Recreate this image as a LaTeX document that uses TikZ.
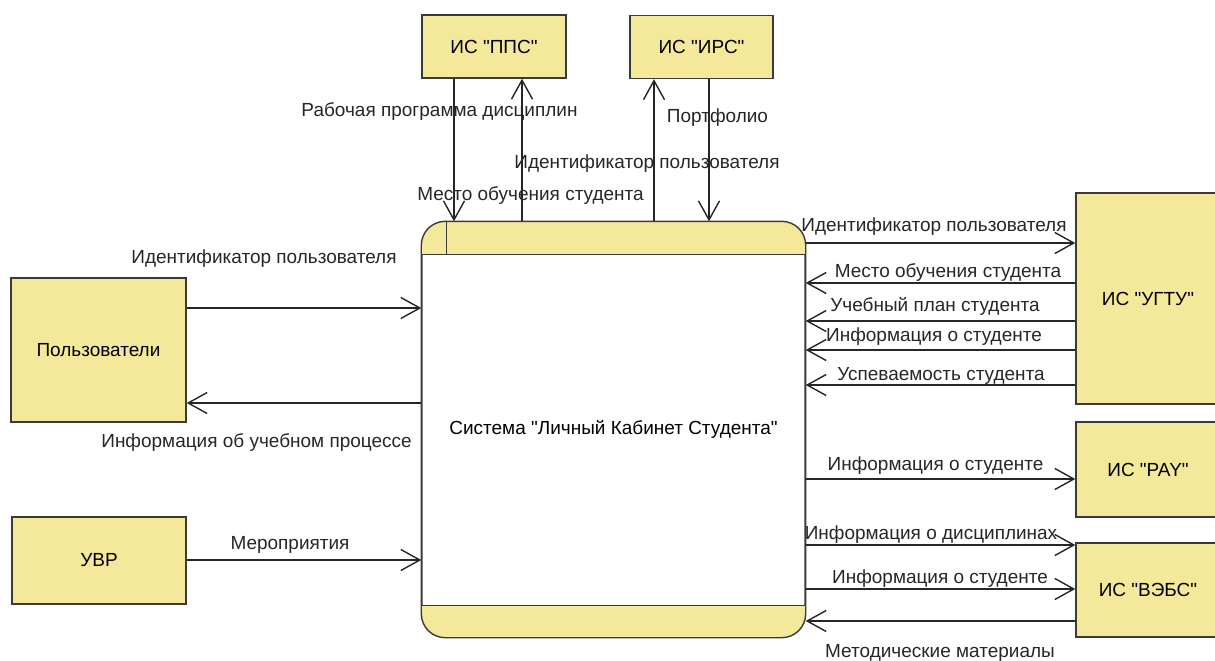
\documentclass[tikz,border=0pt]{standalone}
\usepackage{fontspec}
\setmainfont{Liberation Sans}
\usepackage{tikz}
\usetikzlibrary{arrows.meta,positioning,calc}
\definecolor{entfill}{HTML}{F4E89B}
\definecolor{entdraw}{HTML}{3A3A3A}
\newcommand{\qq}[1]{\textquotedbl#1\textquotedbl}
\tikzset{
  ent/.style={draw=entdraw, fill=entfill, line width=1pt,
              font=\fontsize{13.5}{16}\selectfont},
  sysbox/.style={draw=entdraw, fill=white, line width=1pt, rounded corners=6mm,
                 minimum width=95.75mm, minimum height=103.75mm,
                 font=\fontsize{13.5}{16}\selectfont},
  flow/.style={-{Straight Barb[length=4.75mm,width=5.25mm]}, line width=1pt, draw=black!85},
  lbl/.style={font=\fontsize{13.5}{16}\selectfont, inner sep=0pt, text=black!85},
}

\begin{document}
\begin{tikzpicture}[x=0.25mm, y=-0.25mm]
  \useasboundingbox (0,0) rectangle (1215,660);

  % main system
  \node[sysbox] (sys) at (613.5,429.5) {Система \qq{Личный Кабинет Студента}};
  \begin{scope}
    \clip[rounded corners=6mm] (sys.south west) rectangle (sys.north east);
    \fill[entfill] (sys.north west) rectangle ($(sys.north east)+(0,33)$);
    \fill[entfill] (sys.south west) rectangle ($(sys.south east)+(0,-32)$);
  \end{scope}
  \draw[entdraw, line width=1pt, rounded corners=6mm] (sys.south west) rectangle (sys.north east);
  \draw[entdraw, line width=1pt] ($(sys.north west)+(0,33)$) -- ($(sys.north east)+(0,33)$);
  \draw[entdraw, line width=1pt] ($(sys.south west)+(0,-32)$) -- ($(sys.south east)+(0,-32)$);
  \draw[entdraw, line width=1pt] ($(sys.north west)+(25,0)$) -- ($(sys.north west)+(25,33)$);

  % external systems
  \node[ent, minimum width=36mm, minimum height=15.75mm] (pps) at (494,46.5) {ИС \qq{ППС}};
  \node[ent, minimum width=35.75mm, minimum height=15.75mm] (irs) at (701.5,47) {ИС \qq{ИРС}};
  \node[ent, minimum width=43.75mm, minimum height=36mm] (users) at (98.5,350) {Пользователи};
  \node[ent, minimum width=43.5mm, minimum height=21.75mm] (uvr) at (99,560.5) {УВР};
  \node[ent, minimum width=36mm, minimum height=52.75mm] (ugtu) at (1148,298.5) {ИС \qq{УГТУ}};
  \node[ent, minimum width=36mm, minimum height=23.75mm] (pay) at (1148,469.5) {ИС \qq{PAY}};
  \node[ent, minimum width=36mm, minimum height=23.5mm] (vebs) at (1148,590) {ИС \qq{ВЭБС}};

  % top flows
  \draw[flow] (pps.south -| 454,0) -- (sys.north -| 454,0);
  \draw[flow] (sys.north -| 522,0) -- (pps.south -| 522,0);
  \draw[flow] (sys.north -| 654,0) -- (irs.south -| 654,0);
  \draw[flow] (irs.south -| 709,0) -- (sys.north -| 709,0);

  % left flows
  \draw[flow] (users.east |- 0,308) -- (sys.west |- 0,308);
  \draw[flow] (sys.west |- 0,403) -- (users.east |- 0,403);
  \draw[flow] (uvr.east |- 0,560) -- (sys.west |- 0,560);

  % right flows
  \draw[flow] (sys.east |- 0,243) -- (ugtu.west |- 0,243);
  \draw[flow] (ugtu.west |- 0,283) -- (sys.east |- 0,283);
  \draw[flow] (ugtu.west |- 0,321) -- (sys.east |- 0,321);
  \draw[flow] (ugtu.west |- 0,350) -- (sys.east |- 0,350);
  \draw[flow] (ugtu.west |- 0,385) -- (sys.east |- 0,385);
  \draw[flow] (sys.east |- 0,479) -- (pay.west |- 0,479);
  \draw[flow] (sys.east |- 0,545) -- (vebs.west |- 0,545);
  \draw[flow] (sys.east |- 0,589) -- (vebs.west |- 0,589);
  \draw[flow] (vebs.west |- 0,621) -- (sys.east |- 0,621);

  % flow labels
  \node[lbl] (l1) at (439.5,112) {Рабочая программа дисциплин};
  \node[lbl] (l2) at (717.5,118) {Портфолио};
  \node[lbl] (l3) at (647,164) {Идентификатор пользователя};
  \node[lbl] (l4) at (530.5,196) {Место обучения студента};
  \node[lbl] (l5) at (264,259) {Идентификатор пользователя};
  \node[lbl] (l6) at (256.5,443) {Информация об учебном процессе};
  \node[lbl] (l7) at (290,545) {Мероприятия};
  \node[lbl] (r1) at (934,227) {Идентификатор пользователя};
  \node[lbl] (r2) at (948,273) {Место обучения студента};
  \node[lbl] (r3) at (935,306) {Учебный план студента};
  \node[lbl] (r4) at (934,337) {Информация о студенте};
  \node[lbl] (r5) at (941,376) {Успеваемость студента};
  \node[lbl] (r6) at (935.5,466) {Информация о студенте};
  \node[lbl] (r7) at (931,535) {Информация о дисциплинах};
  \node[lbl] (r8) at (940,579) {Информация о студенте};
  \node[lbl] (r9) at (940,653) {Методические материалы};
\end{tikzpicture}
\end{document}
